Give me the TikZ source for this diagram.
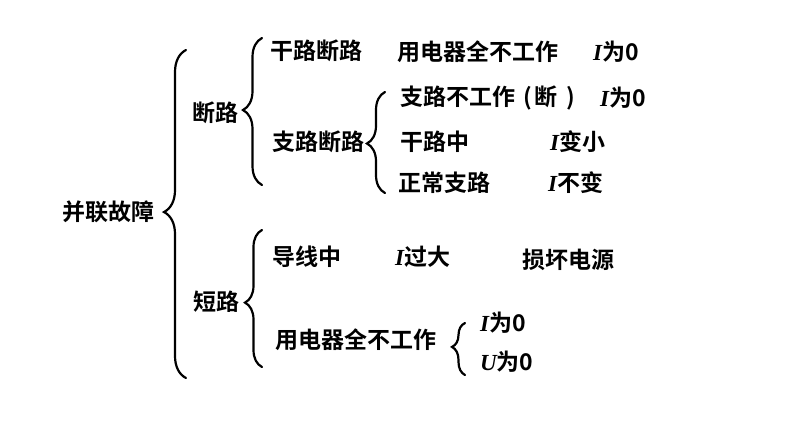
\documentclass[tikz,border=0pt]{standalone}
\usepackage{fontspec}
\setmainfont{Noto Sans CJK SC}[BoldFont={Noto Sans CJK SC Bold}]
\newfontfamily\varfont{Liberation Serif}
\usetikzlibrary{decorations.pathreplacing}
\newcommand{\qv}[1]{{\varfont\bfseries\itshape #1}}
\begin{document}
\begin{tikzpicture}[x=1pt,y=-1pt,
  lbl/.style={anchor=west,inner sep=0pt,font=\fontsize{23}{26}\selectfont\bfseries},
  bracebar/.style={line width=2.2pt,line cap=round,decorate,decoration={brace,amplitude=#1}}]
\useasboundingbox[fill=white] (0,0) rectangle (794,447);
% texts
\node[lbl] (root) at (62,212) {并联故障};
\node[lbl] (dl) at (192,113) {断路};
\node[lbl] (gldl) at (270,51) {干路断路};
\node[lbl] (zldl) at (272,142) {支路断路};
\node[lbl] (yq1) at (397,52) {用电器全不工作};
\node[lbl] (i1) at (593,52) {\qv{I}为0};
\node[lbl] (zlbg) at (400,98) {支路不工作\hspace{8pt}(\hspace{3pt}断\hspace{9pt})};
\node[lbl] (i2) at (600,98) {\qv{I}为0};
\node[lbl] (glz) at (400,142) {干路中};
\node[lbl] (i3) at (550,142) {\qv{I}变小};
\node[lbl] (zczl) at (398,183) {正常支路};
\node[lbl] (i4) at (548,183) {\qv{I}不变};
\node[lbl] (dlu) at (193,302) {短路};
\node[lbl] (dxz) at (272,257) {导线中};
\node[lbl] (i5) at (395,257) {\qv{I}过大};
\node[lbl] (shdy) at (522,260) {损坏电源};
\node[lbl] (yq2) at (275,340) {用电器全不工作};
\node[lbl] (i6) at (480,323) {\qv{I}为0};
\node[lbl] (u1) at (480,362) {\qv{U}为0};
% brace ends
\coordinate (b1t) at (186,50);  \coordinate (b1b) at (186,378);
\coordinate (b2t) at (262,38);  \coordinate (b2b) at (262,185);
\coordinate (b3t) at (385,92);  \coordinate (b3b) at (385,193);
\coordinate (b4t) at (262,230); \coordinate (b4b) at (262,367);
\coordinate (b5t) at (465,323); \coordinate (b5b) at (465,375);
% braces
\draw[bracebar=22,decoration={aspect=0.506}] (b1b) -- (b1t);
\draw[bracebar=19,decoration={aspect=0.51}] (b2b) -- (b2t);
\draw[bracebar=18,decoration={aspect=0.49}] (b3b) -- (b3t);
\draw[bracebar=17,decoration={aspect=0.47}] (b4b) -- (b4t);
\draw[bracebar=13,decoration={aspect=0.54}] (b5b) -- (b5t);
\end{tikzpicture}
\end{document}
